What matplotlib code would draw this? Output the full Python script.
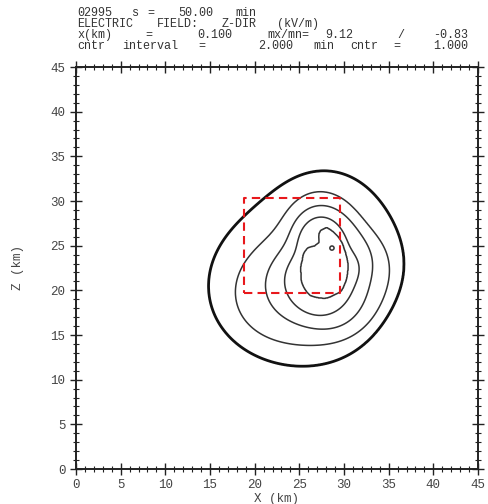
import numpy as np
import matplotlib
matplotlib.use("Agg")
import matplotlib.pyplot as plt
from matplotlib.ticker import MultipleLocator

# ---------------- data ----------------
center_x, center_z = 28.06, 22.65          # km, reference point of the cell
field_max, field_min = 9.12, -0.83
contour_levels = [1, 3, 5, 7, 9]

# radius (km) of each contour along rays from the centre (deg, CCW from +x)
angles12 = [0, 30, 60, 90, 120, 150, 180, 210, 240, 270, 300, 330]
r_lvl1 = [8.66, 8.77, 10.07, 10.37, 10.82, 10.52, 13.25, 13.36, 12.39, 10.82, 9.40, 8.69]
r_lvl3 = [6.90, 6.60, 7.16, 8.02, 8.28, 6.90, 9.78, 10.75, 9.85, 8.77, 7.84, 7.46]
r_lvl5 = [5.04, 5.19, 5.75, 6.64, 6.57, 5.19, 6.46, 7.43, 7.24, 7.09, 6.19, 5.52]
r_lvl7 = [3.54, 3.43, 4.03, 5.41, 5.26, 3.81, 4.55, 5.07, 5.75, 5.30, 4.48, 3.81]
angles9 = [0, 15, 30, 45, 60, 75, 90, 100, 104, 108, 120, 135, 150, 165, 180,
           195, 210, 225, 240, 255, 270, 285, 300, 315, 330, 345]
r_lvl9 = [2.43, 2.43, 2.54, 2.80, 3.28, 3.81, 4.40, 4.10, 3.73, 2.84, 2.69, 2.99,
          2.99, 2.84, 2.91, 2.99, 3.28, 3.51, 3.73, 3.62, 3.54, 3.28, 3.21, 2.84,
          2.61, 2.43]
dip_x, dip_z, dip_depth = 28.62, 24.70, 0.08   # tiny closed contour near peak

box_x = [18.75, 29.55]
box_z = [19.70, 30.30]

header_lines = [
    [("02995", 77), ("s", 132), ("=", 147), ("50.00", 178), ("min", 235)],
    [("ELECTRIC", 77), ("FIELD:", 157), ("Z-DIR", 222), ("(kV/m)", 277)],
    [("x(km)", 77), ("=", 145), ("0.100", 197), ("mx/mn=", 267), ("9.12", 325),
     ("/", 397), ("-0.83", 433)],
    [("cntr", 77), ("interval", 122), ("=", 198), ("2.000", 258), ("min", 313),
     ("cntr", 350), ("=", 393), ("1.000", 433)],
]
header_y = [13, 24, 35, 46]

xticks = list(range(0, 46, 5))
zticks = list(range(0, 46, 5))

# ---------------- build the field ----------------
W, H = 488, 504
fig = plt.figure(figsize=(W / 100, H / 100), dpi=100)
ax = fig.add_axes([76 / W, 1 - 469 / H, 402 / W, 402 / H])

gx = np.linspace(0, 45, 901)
gz = np.linspace(0, 45, 901)
X, Z = np.meshgrid(gx, gz)
dx, dz = X - center_x, Z - center_z
R = np.hypot(dx, dz)
TH = np.degrees(np.arctan2(dz, dx)) % 360.0


def trig_radius(angles, radii, th, order=4):
    a = np.radians(np.asarray(angles, float))
    cols = [np.ones_like(a)]
    for k in range(1, order + 1):
        cols += [np.cos(k * a), np.sin(k * a)]
    coef, *_ = np.linalg.lstsq(np.stack(cols, 1), np.asarray(radii, float), rcond=None)
    t = np.radians(th)
    out = coef[0] * np.ones_like(t)
    for k in range(1, order + 1):
        out += coef[2 * k - 1] * np.cos(k * t) + coef[2 * k] * np.sin(k * t)
    return out


R1 = trig_radius(angles12, r_lvl1, TH)
R3 = trig_radius(angles12, r_lvl3, TH)
R5 = trig_radius(angles12, r_lvl5, TH)
R7 = trig_radius(angles12, r_lvl7, TH)
R9 = np.interp(TH, angles9, r_lvl9, period=360)

nodes_r = [np.zeros_like(R), R9, R7, R5, R3, R1, R1 + 4.0]
nodes_v = [field_max, 9, 7, 5, 3, 1, field_min]
F = np.full_like(R, field_min)
for i in range(len(nodes_r) - 1):
    m = (R >= nodes_r[i]) & (R < nodes_r[i + 1])
    t = (R[m] - nodes_r[i][m]) / (nodes_r[i + 1][m] - nodes_r[i][m])
    F[m] = nodes_v[i] + t * (nodes_v[i + 1] - nodes_v[i])
F -= dip_depth * np.exp(-((X - dip_x) ** 2 + (Z - dip_z) ** 2) / (2 * 0.25 ** 2))

# ---------------- draw ----------------
ax.contour(X, Z, F, levels=[contour_levels[0]], colors="#111111", linewidths=2.0)
ax.contour(X, Z, F, levels=contour_levels[1:], colors="#333333", linewidths=1.1)
ax.plot([box_x[0], box_x[1], box_x[1], box_x[0], box_x[0]],
        [box_z[0], box_z[0], box_z[1], box_z[1], box_z[0]],
        color="#e8181c", lw=1.5, ls=(0, (4, 2.5)))

ax.set_xlim(0, 45)
ax.set_ylim(0, 45)
ax.set_xticks(xticks)
ax.set_yticks(zticks)
ax.xaxis.set_minor_locator(MultipleLocator(1))
ax.yaxis.set_minor_locator(MultipleLocator(1))
ax.tick_params(which="both", direction="inout", top=True, right=True,
               colors="#222222", labelsize=9)
ax.tick_params(which="major", length=9, width=1.0, pad=3)
ax.tick_params(which="minor", length=5, width=0.8)
for lab in ax.get_xticklabels() + ax.get_yticklabels():
    lab.set_fontfamily("Liberation Mono")
    lab.set_color("#444444")
for s in ax.spines.values():
    s.set_linewidth(1.4)
    s.set_color("#222222")

ax.set_xlabel("X (km)", fontfamily="Liberation Mono", fontsize=9, color="#444444", labelpad=1)
ax.set_ylabel("Z (km)", fontfamily="Liberation Mono", fontsize=9, color="#444444", labelpad=19)

for line, yy in zip(header_lines, header_y):
    for txt, xx in line:
        fig.text(xx / W, 1 - yy / H, txt, fontfamily="Liberation Mono", fontsize=8.5,
                 color="#333333", ha="left", va="center")

fig.savefig("out.png", dpi=100)
